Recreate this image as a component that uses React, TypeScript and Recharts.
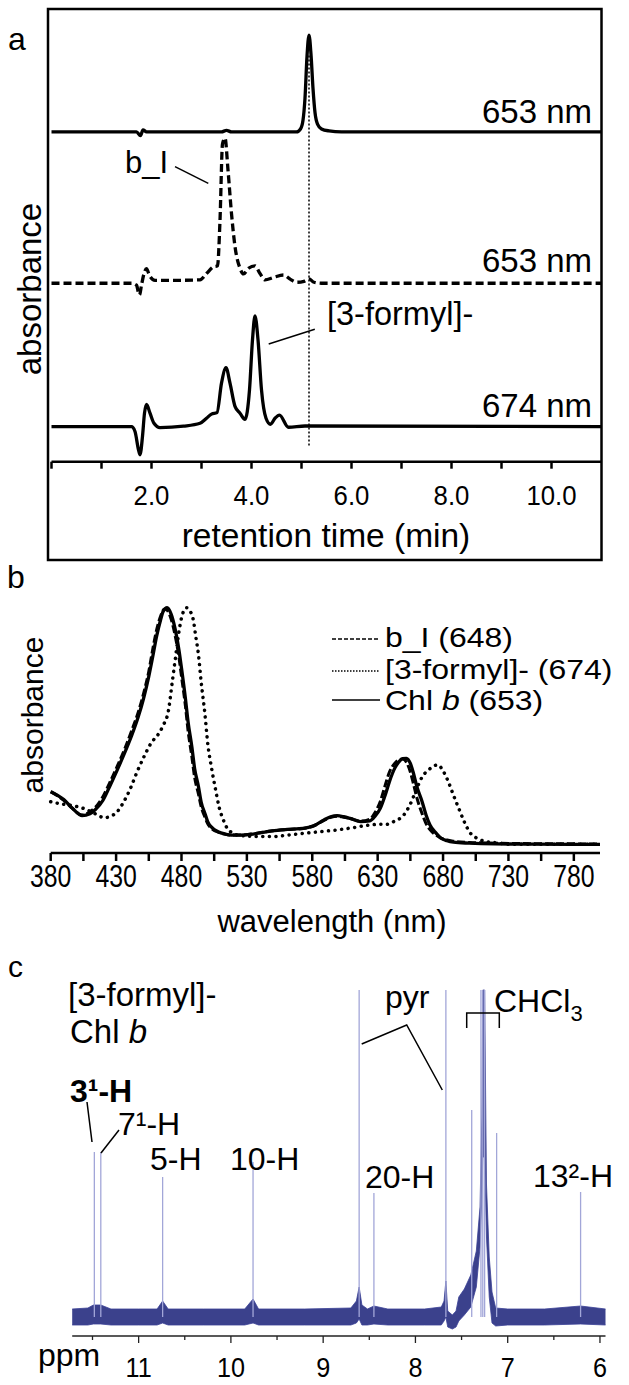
import React from 'react';
import { LineChart, Line, XAxis, YAxis, ReferenceLine, ComposedChart, Area } from 'recharts';

const FONT = '"Liberation Sans", Arial, Helvetica, sans-serif';

// ---------- panel a: HPLC traces, [time (min), signal above own baseline] ----------
const TIME_TICKS = [0, 1, 2, 3, 4, 5, 6, 7, 8, 9, 10];
const TIME_LABELS = [2, 4, 6, 8, 10];
const OFFSET_CHLB = 3.41;
const OFFSET_BI = 1.845;
const OFFSET_FORMYL = 0.362;
const MARKER_TIME = 5.15;

const CHLB_653: [number, number][] = [
  [0, 0], [1.7, 0], [1.78, -0.04], [1.83, 0.02], [1.9, 0], [3.4, 0], [3.5, 0.015], [3.6, 0],
  [4.9, 0], [4.98, 0.03], [5.03, 0.12], [5.07, 0.35], [5.11, 0.78], [5.15, 1.0], [5.19, 0.8],
  [5.23, 0.45], [5.27, 0.2], [5.32, 0.08], [5.4, 0.03], [5.55, 0.01], [5.8, 0], [11, 0],
];

const BI_653: [number, number][] = [
  [0, 0], [1.6, 0], [1.7, -0.02], [1.74, -0.1], [1.76, -0.12], [1.8, -0.02], [1.85, 0.1],
  [1.9, 0.15], [1.96, 0.08], [2.07, 0.03], [2.5, 0.03], [2.97, 0.035], [3.1, 0.1], [3.24, 0.17],
  [3.32, 0.18], [3.37, 0.65], [3.42, 1.44], [3.47, 1.5], [3.53, 1.17], [3.6, 0.72], [3.67, 0.38],
  [3.77, 0.155], [3.84, 0.096], [3.94, 0.155], [4.07, 0.18], [4.17, 0.1], [4.27, 0.035],
  [4.44, 0.06], [4.64, 0.085], [4.78, 0.04], [4.9, 0.01], [5.05, 0.02], [5.15, 0.045],
  [5.25, 0.01], [5.4, 0], [11, 0],
];

const FORMYL_674: [number, number][] = [
  [0, 0], [1.6, 0], [1.67, -0.05], [1.74, -0.24], [1.77, -0.29], [1.82, -0.1], [1.86, 0.14],
  [1.9, 0.23], [1.97, 0.14], [2.05, 0.035], [2.17, -0.01], [2.64, 0.005], [2.97, 0.035],
  [3.1, 0.087], [3.2, 0.13], [3.31, 0.145], [3.4, 0.45], [3.49, 0.61], [3.57, 0.45], [3.67, 0.21],
  [3.77, 0.14], [3.87, 0.077], [3.96, 0.38], [4.02, 0.9], [4.07, 1.145], [4.13, 0.9], [4.2, 0.38],
  [4.29, 0.087], [4.38, 0.025], [4.47, 0.087], [4.56, 0.12], [4.74, -0.006], [5.07, 0.007], [11, 0],
];

// ---------- panel b: absorption spectra, [wavelength (nm), relative absorbance] ----------
const NM_TICKS = [380, 405, 430, 455, 480, 505, 530, 555, 580, 605, 630, 655, 680, 705, 730, 755, 780];
const NM_LABELS = [380, 430, 480, 530, 580, 630, 680, 730, 780];

const CHLB_SPEC: [number, number][] = [
  [380, 0.25], [390, 0.218], [397, 0.18], [404, 0.152], [410, 0.16], [414, 0.176], [420, 0.215],
  [425, 0.27], [431, 0.34], [437, 0.414], [442, 0.48], [447, 0.556], [451, 0.63], [455, 0.72],
  [458, 0.8], [461, 0.884], [464, 0.95], [466, 0.985], [469, 1.0], [472, 0.975], [475, 0.917],
  [478, 0.83], [480, 0.754], [483, 0.63], [485, 0.536], [488, 0.43], [490, 0.346], [493, 0.27],
  [495, 0.209], [498, 0.16], [500, 0.128], [504, 0.1], [508, 0.087], [513, 0.078], [518, 0.073],
  [525, 0.073], [533, 0.076], [541, 0.083], [549, 0.09], [561, 0.096], [573, 0.1], [581, 0.111],
  [589, 0.135], [594, 0.147], [599, 0.152], [604, 0.148], [609, 0.141], [617, 0.128], [624, 0.131],
  [628, 0.15], [632, 0.182], [636, 0.24], [639, 0.291], [643, 0.345], [646, 0.37], [649, 0.385],
  [652, 0.386], [655, 0.365], [657, 0.332], [660, 0.27], [664, 0.209], [667, 0.155], [670, 0.114],
  [674, 0.085], [678, 0.062], [683, 0.05], [688, 0.044], [700, 0.04], [720, 0.037], [750, 0.036],
  [800, 0.035],
];

const BI_SPEC: [number, number][] = [
  [380, 0.25], [390, 0.215], [397, 0.18], [404, 0.155], [410, 0.168], [414, 0.185], [420, 0.23],
  [425, 0.285], [431, 0.355], [437, 0.43], [442, 0.5], [447, 0.575], [451, 0.65], [455, 0.74],
  [458, 0.83], [461, 0.91], [464, 0.965], [467, 0.995], [469, 0.99], [472, 0.955], [475, 0.89],
  [478, 0.8], [480, 0.72], [483, 0.6], [485, 0.5], [488, 0.39], [490, 0.31], [493, 0.24],
  [495, 0.19], [498, 0.145], [500, 0.12], [504, 0.095], [508, 0.085], [513, 0.077], [518, 0.073],
  [525, 0.073], [533, 0.077], [541, 0.084], [549, 0.09], [561, 0.096], [573, 0.1], [581, 0.11],
  [589, 0.133], [594, 0.145], [599, 0.15], [604, 0.146], [609, 0.14], [617, 0.13], [624, 0.138],
  [628, 0.165], [632, 0.21], [636, 0.28], [639, 0.33], [643, 0.365], [646, 0.38], [649, 0.383],
  [652, 0.37], [655, 0.33], [657, 0.29], [660, 0.225], [664, 0.16], [667, 0.12], [670, 0.095],
  [674, 0.075], [678, 0.062], [683, 0.053], [688, 0.048], [700, 0.043], [720, 0.04], [750, 0.038],
  [800, 0.037],
];

const FORMYL_SPEC: [number, number][] = [
  [380, 0.209], [388, 0.2], [397, 0.193], [406, 0.18], [414, 0.16], [421, 0.144], [426, 0.15],
  [431, 0.169], [436, 0.21], [441, 0.264], [446, 0.33], [452, 0.4], [457, 0.45], [462, 0.482],
  [466, 0.52], [470, 0.58], [473, 0.7], [475, 0.78], [478, 0.9], [480, 0.958], [482, 0.99],
  [484, 1.0], [486, 0.99], [489, 0.951], [491, 0.88], [493, 0.808], [495, 0.7], [498, 0.563],
  [500, 0.45], [503, 0.346], [506, 0.26], [509, 0.182], [512, 0.135], [515, 0.1], [519, 0.082],
  [523, 0.073], [535, 0.068], [549, 0.067], [561, 0.073], [573, 0.08], [586, 0.087], [599, 0.094],
  [612, 0.104], [624, 0.114], [632, 0.117], [637, 0.117], [643, 0.13], [650, 0.155], [655, 0.2],
  [660, 0.264], [664, 0.31], [669, 0.339], [673, 0.355], [676, 0.359], [680, 0.335], [684, 0.291],
  [688, 0.235], [692, 0.182], [696, 0.13], [701, 0.08], [706, 0.06], [711, 0.049], [720, 0.042],
  [731, 0.036], [800, 0.036],
];

// ---------- panel c: 1H NMR, [ppm, low, high] noise envelope and [ppm, height] sticks ----------
const PPM_TICKS = [6, 6.5, 7, 7.5, 8, 8.5, 9, 9.5, 10, 10.5, 11, 11.5];
const NMR_BAND: [number, number, number][] = [
  [11.72, -8, 8], [11.55, -8, 9], [11.49, -7, 12], [11.41, -7, 12], [11.3, -8, 8], [11.0, -8, 8],
  [10.8, -8, 8], [10.74, -6, 16], [10.68, -8, 8], [10.3, -8, 8], [9.85, -8, 8], [9.76, -6, 18],
  [9.7, -8, 8], [9.2, -8, 8], [8.7, -8, 9], [8.64, -6, 16], [8.61, -2, 30], [8.58, -8, 12],
  [8.52, -8, 8], [8.45, -7, 11], [8.3, -8, 8], [7.9, -8, 8], [7.72, -8, 10], [7.69, -4, 16],
  [7.67, 0, 36], [7.65, -10, 6], [7.6, -12, 2], [7.56, -10, 6], [7.53, -4, 20], [7.47, 2, 28],
  [7.4, 10, 42], [7.34, 30, 66], [7.3, 70, 110], [7.28, 120, 200], [7.27, 160, 327],
  [7.25, 160, 327], [7.23, 80, 133], [7.2, 20, 60], [7.17, -6, 25], [7.13, -9, 9], [7.0, -8, 8],
  [6.6, -8, 8], [6.21, -7, 11], [5.94, -8, 8],
];
const NMR_PEAKS: [number, number][] = [
  [11.48, 165], [11.41, 165], [10.74, 140], [9.76, 155], [8.61, 327], [8.45, 124], [7.67, 327],
  [7.39, 207], [7.29, 327], [7.27, 327], [7.25, 327], [7.12, 184], [6.21, 125],
];

const tRows = (pts: [number, number][], off: number) => pts.map(([t, v]) => ({ t, v: v + off }));
const nmRows = (pts: [number, number][]) => pts.map(([nm, a]) => ({ nm, a }));
const bandRows = NMR_BAND.map(([p, lo, hi]) => ({ p, band: [lo, hi] }));

const txt = { fontFamily: FONT, fill: '#000' } as const;

function TimeTick({ x, y, payload }: any) {
  if (!TIME_LABELS.includes(payload.value)) return <g />;
  return (
    <text transform={`translate(${x},${y + 34}) scale(0.92,1)`} textAnchor="middle" fontSize={28} {...txt}>
      {payload.value.toFixed(1)}
    </text>
  );
}

function NmTick({ x, y, payload }: any) {
  if (!NM_LABELS.includes(payload.value)) return <g />;
  return (
    <text transform={`translate(${x},${y + 24}) scale(0.8,1)`} textAnchor="middle" fontSize={31} {...txt}>
      {payload.value}
    </text>
  );
}

function PpmTick({ x, y, payload }: any) {
  const major = Number.isInteger(payload.value);
  return (
    <g>
      <line x1={x} y1={y} x2={x} y2={y + (major ? 7 : 4)} stroke="#222" strokeWidth={1.3} />
      {major && (
        <text transform={`translate(${x},${y + 41}) scale(0.9,1)`} textAnchor="middle" fontSize={28} {...txt}>
          {payload.value}
        </text>
      )}
    </g>
  );
}

// legend rows are a little squat in the source, so squeeze them vertically
function LegendText({ x, y, children }: { x: number; y: number; children: React.ReactNode }) {
  return (
    <text transform={`translate(${x},${y}) scale(1,0.86)`} fontSize={32} {...txt}>{children}</text>
  );
}

function Annotations() {
  return (
    <svg width={629} height={1385} style={{ position: 'absolute', left: 0, top: 0, pointerEvents: 'none' }}>
      {/* panel a */}
      <rect x={48} y={9} width={553.5} height={551} fill="none" stroke="#000" strokeWidth={2.5} />
      <text x={8} y={50} fontSize={32} {...txt}>a</text>
      <text transform="translate(41,289) rotate(-90)" textAnchor="middle" fontSize={33} {...txt}>absorbance</text>
      <text x={592} y={123} textAnchor="end" fontSize={33} {...txt}>653 nm</text>
      <text x={592} y={272} textAnchor="end" fontSize={33} {...txt}>653 nm</text>
      <text x={592} y={417} textAnchor="end" fontSize={33} {...txt}>674 nm</text>
      <text x={125} y={173} fontSize={31} {...txt}>b_I</text>
      <line x1={175} y1={166.7} x2={208.3} y2={183.3} stroke="#000" strokeWidth={1.5} />
      <text x={327} y={325} fontSize={32.5} {...txt}>[3-formyl]-</text>
      <line x1={268.7} y1={344} x2={314.8} y2={329.3} stroke="#000" strokeWidth={1.5} />
      <text x={326} y={547} textAnchor="middle" fontSize={33.5} {...txt}>retention time (min)</text>

      {/* panel b */}
      <text x={7} y={588} fontSize={32} {...txt}>b</text>
      <text transform="translate(43,715) rotate(-90)" textAnchor="middle" fontSize={30} {...txt}>absorbance</text>
      <line x1={332} y1={639} x2={380} y2={639} stroke="#000" strokeWidth={1.5} strokeDasharray="4 2" />
      <LegendText x={385} y={647}>b_I (648)</LegendText>
      <line x1={332} y1={671} x2={380} y2={671} stroke="#000" strokeWidth={1.5} strokeDasharray="1.5 1.5" />
      <LegendText x={385} y={679}>[3-formyl]- (674)</LegendText>
      <line x1={332} y1={700} x2={380} y2={700} stroke="#000" strokeWidth={1.5} />
      <LegendText x={385} y={710}>Chl <tspan fontStyle="italic">b</tspan> (653)</LegendText>
      <text x={332} y={932} textAnchor="middle" fontSize={31} {...txt}>wavelength (nm)</text>

      {/* panel c */}
      <text x={8} y={977} fontSize={30} {...txt}>c</text>
      <text x={68} y={1006} fontSize={33} {...txt}>[3-formyl]-</text>
      <text x={70} y={1043} fontSize={33} {...txt}>Chl <tspan fontStyle="italic">b</tspan></text>
      <text x={70} y={1102} fontSize={32} fontWeight="bold" {...txt}>3¹-H</text>
      <text x={118} y={1135} fontSize={32} {...txt}>7¹-H</text>
      <text x={150} y={1170} fontSize={32} {...txt}>5-H</text>
      <text x={230} y={1170} fontSize={32} {...txt}>10-H</text>
      <text x={365} y={1188} fontSize={32} {...txt}>20-H</text>
      <text x={533} y={1187} fontSize={32} {...txt}>13²-H</text>
      <text x={385} y={1008} fontSize={32} {...txt}>pyr</text>
      <text x={494} y={1012} fontSize={32} {...txt}>CHCl<tspan fontSize={22} dy={9}>3</tspan></text>
      <line x1={87} y1={1102} x2={92} y2={1142} stroke="#000" strokeWidth={1.5} />
      <line x1={119} y1={1130} x2={101} y2={1153} stroke="#000" strokeWidth={1.5} />
      <polyline points="361.7,1044 406.7,1025 442.3,1090" fill="none" stroke="#000" strokeWidth={1.5} />
      <polyline points="466.7,1028 466.7,1013 499.3,1013 499.3,1028" fill="none" stroke="#000" strokeWidth={1.5} />
      <text x={38} y={1366} fontSize={32} {...txt}>ppm</text>
    </svg>
  );
}

export default function App() {
  return (
    <div style={{ position: 'absolute', left: 0, top: 0, width: 629, height: 1385, background: '#fff', fontFamily: FONT }}>
      {/* panel a */}
      <LineChart width={629} height={560} margin={{ top: 9, right: 27.5, bottom: 0, left: 51.5 }}
        style={{ position: 'absolute', left: 0, top: 0 }}>
        <XAxis type="number" dataKey="t" domain={[0, 11]} ticks={TIME_TICKS} interval={0} height={98.3}
          tickSize={7} tickMargin={2} axisLine={{ stroke: '#000', strokeWidth: 2.5 }}
          tickLine={{ stroke: '#000', strokeWidth: 2.5 }} tick={(p: any) => <TimeTick {...p} />} />
        <YAxis hide domain={[0, 4.68]} />
        <ReferenceLine segment={[{ x: MARKER_TIME, y: 4.2 }, { x: MARKER_TIME, y: 0.16 }]}
          stroke="#000" strokeWidth={1.5} strokeDasharray="2 2" />
        <Line data={tRows(CHLB_653, OFFSET_CHLB)} dataKey="v" type="monotone" stroke="#000"
          strokeWidth={3.3} dot={false} isAnimationActive={false} />
        <Line data={tRows(BI_653, OFFSET_BI)} dataKey="v" type="monotone" stroke="#000"
          strokeWidth={3.3} strokeDasharray="8 4" dot={false} isAnimationActive={false} />
        <Line data={tRows(FORMYL_674, OFFSET_FORMYL)} dataKey="v" type="monotone" stroke="#000"
          strokeWidth={3.3} dot={false} isAnimationActive={false} />
      </LineChart>

      {/* panel b */}
      <LineChart width={629} height={300} margin={{ top: 12.7, right: 29, bottom: 0, left: 50.7 }}
        style={{ position: 'absolute', left: 0, top: 595 }}>
        <XAxis type="number" dataKey="nm" domain={[380, 800]} ticks={NM_TICKS} interval={0} height={42}
          tickSize={8} tickMargin={2} axisLine={{ stroke: '#000', strokeWidth: 2.5 }}
          tickLine={{ stroke: '#000', strokeWidth: 2.5 }} tick={(p: any) => <NmTick {...p} />} />
        <YAxis width={0} domain={[0, 1]} tick={false} tickLine={false}
          axisLine={{ stroke: '#000', strokeWidth: 2.5 }} />
        <Line data={nmRows(FORMYL_SPEC)} dataKey="a" type="monotone" stroke="#000" strokeWidth={3.5}
          strokeDasharray="0.1 6.5" strokeLinecap="round" dot={false} isAnimationActive={false} />
        <Line data={nmRows(BI_SPEC)} dataKey="a" type="monotone" stroke="#000" strokeWidth={3}
          strokeDasharray="8 3" dot={false} isAnimationActive={false} />
        <Line data={nmRows(CHLB_SPEC)} dataKey="a" type="monotone" stroke="#000" strokeWidth={3.3}
          dot={false} isAnimationActive={false} />
      </LineChart>

      {/* panel c */}
      <ComposedChart width={629} height={410} data={bandRows} margin={{ top: 15, right: 23.5, bottom: 0, left: 72.2 }}
        style={{ position: 'absolute', left: 0, top: 975 }}>
        <XAxis type="number" dataKey="p" domain={[5.94, 11.72]} reversed ticks={PPM_TICKS} interval={0}
          height={49} tickSize={0} tickMargin={0} tickLine={false}
          axisLine={{ stroke: '#222', strokeWidth: 1.5 }} tick={(p: any) => <PpmTick {...p} />} />
        <YAxis hide domain={[-19, 327]} />
        {NMR_PEAKS.map(([p, h]) => (
          <ReferenceLine key={`pk-${p}`} segment={[{ x: p, y: 0 }, { x: p, y: h }]}
            stroke="#a2a6d8" strokeWidth={1.3} />
        ))}
        <Area dataKey="band" type="linear" fill="#262c80" fillOpacity={0.9} stroke="#3a4096"
          strokeWidth={0.8} isAnimationActive={false} />
      </ComposedChart>

      <Annotations />
    </div>
  );
}
